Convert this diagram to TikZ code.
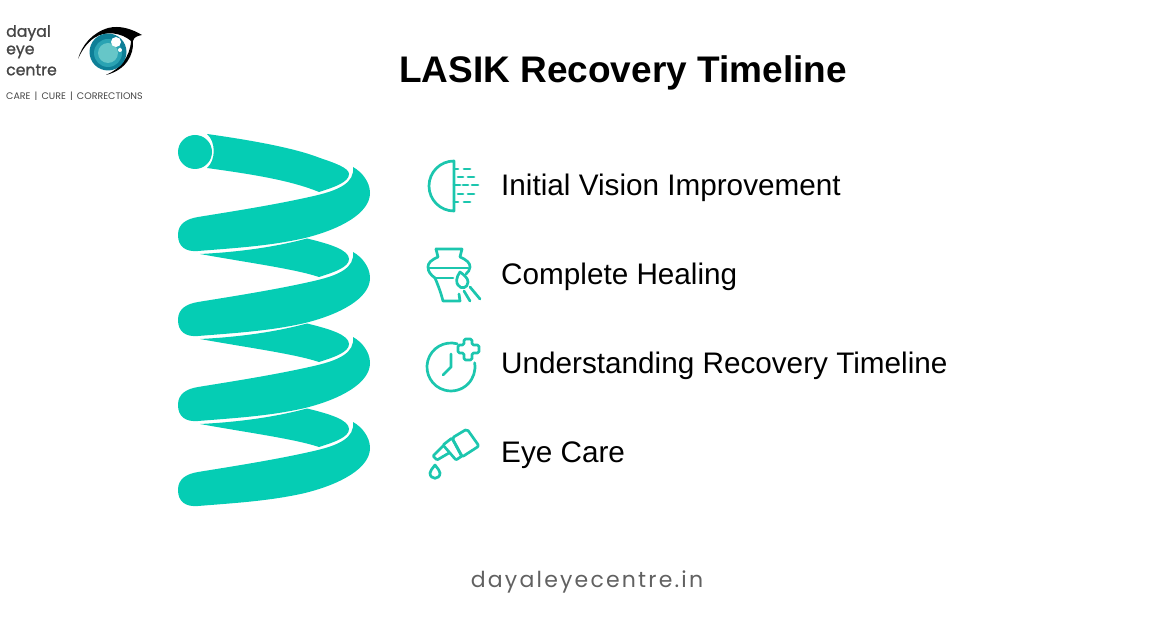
\documentclass[tikz,border=0pt]{standalone}
\usepackage{fontspec}
\setmainfont{Liberation Sans}
\newfontfamily\logofont{Poppins}
\newfontfamily\logoheavy[FakeBold=1.1]{Poppins}
\newfontfamily\footfont[LetterSpace=10]{Poppins}
\usepackage{tikz}

\definecolor{springteal}{HTML}{05CDB4}
\definecolor{iconteal}{HTML}{1CC6AE}
\definecolor{logogray}{HTML}{454545}
\definecolor{irisdark}{HTML}{0E7F97}
\definecolor{irismid}{HTML}{2AA3B3}
\definecolor{irislight}{HTML}{66C6C8}

\tikzset{
    frontband/.pic={
        \fill[springteal] (198,217) .. controls (235,211) and (280,204) .. (318,195)
            .. controls (338,190) and (355,183) .. (353,167)
            .. controls (362,172) and (370,182) .. (370,193)
            .. controls (370,213) and (341,229) .. (305,238)
            .. controls (270,246) and (235,248) .. (198,251)
            .. controls (186,252) and (178,247) .. (178,235)
            .. controls (178,224) and (186,219) .. (198,217) -- cycle;
    },
    backband/.pic={
        \fill[springteal] (200,254) .. controls (240,252) and (275,247) .. (307,238.5)
            .. controls (330,244) and (349,250) .. (349,259)
            .. controls (349,267) and (335,272) .. (319,277)
            .. controls (295,269) and (250,263) .. (200,254) -- cycle;
    }
}

\begin{document}
\begin{tikzpicture}[
    x=1pt, y=-1pt,
    title/.style={anchor=center, font=\fontsize{37}{37}\selectfont\bfseries, text=black},
    itemlabel/.style={anchor=west, font=\fontsize{29.7}{30}\selectfont, text=black, inner sep=0pt},
    logoword/.style={anchor=west, font=\logoheavy\fontsize{15.7}{15.7}\selectfont, text=logogray, inner sep=0pt},
    icon/.style={draw=iconteal, line width=2.7pt, line cap=round, line join=round}
    ]
\useasboundingbox (0,0) rectangle (1170,628);

% Logo
\node[logoword] (logo day) at (6,33) {dayal};
\node[logoword] (logo eye) at (6,52) {eye};
\node[logoword] (logo cen) at (6,70) {centre};
\node[anchor=west, inner sep=0pt, text=logogray, font=\logofont\fontsize{9.5}{9.5}\selectfont] (logo tag) at (6,96) {CARE \,|\, CURE \,|\, CORRECTIONS};

\fill[black] (78,59) .. controls (82,45) and (92,33) .. (108,28)
    .. controls (120,25) and (132,29) .. (142,35)
    .. controls (137,36) and (134,37) .. (133,41)
    .. controls (134,55) and (126,70) .. (106,75)
    .. controls (120,69) and (130,57) .. (131,41)
    .. controls (122,33) and (106,30) .. (94,38)
    .. controls (87,43) and (82,50) .. (78,59) -- cycle;
\fill[irisdark] (108,52) circle (18.5pt);
\fill[irismid] (108,53) circle (14pt);
\fill[irislight] (108,53) circle (10pt);
\fill[white] (116,42) circle (5pt);
\fill[white] (120,50) circle (2pt);

% Title
\node[title] (title) at (623,72.5) {LASIK Recovery Timeline};

% Spring
\fill[springteal] (195,152) circle (17pt);
\fill[springteal] (207,134) .. controls (250,140) and (295,148) .. (320,158)
    .. controls (335,163) and (349,168) .. (349,174)
    .. controls (349,182) and (335,187) .. (319,192)
    .. controls (290,180) and (250,174) .. (207,168)
    .. controls (216,160) and (216,142) .. (207,134) -- cycle;
\pic at (0,0) {frontband};
\pic at (0,0) {backband};
\pic at (0,85) {frontband};
\pic at (0,85) {backband};
\pic at (0,170) {frontband};
\pic at (0,170) {backband};
\pic at (0,255) {frontband};

% Icon: half disc with dashes
\draw[icon] (454,161) arc[start angle=90, end angle=270, radius=25pt] -- cycle;
\draw[icon] (454,169) -- (458,169) (464,169) -- (470,169);
\draw[icon] (458,177) -- (463,177) (468,177) -- (474,177);
\draw[icon] (454,185) -- (460,185) (463,185) -- (468,185) (472,185) -- (478,185);
\draw[icon] (458,194) -- (463,194) (468,194) -- (474,194);
\draw[icon] (454,202) -- (458,202) (464,202) -- (470,202);

% Icon: vase and brush
\draw[icon] (436,249) -- (462,249) -- (460,257) .. controls (467,260) and (470,263) .. (470,267)
    .. controls (470,270) and (468,272) .. (466,274);
\draw[icon] (436,249) -- (438,257) .. controls (431,260) and (428,263) .. (428,267)
    .. controls (428,272) and (431,275) .. (435,278) .. controls (438,285) and (441,293) .. (443,301) -- (460,301) -- (459,294);
\draw[icon] (429,268) -- (468,268);
\draw[icon] (435,278) -- (453,278);
\draw[icon] (460,272) .. controls (456,277) and (456,283) .. (458,285)
    .. controls (461,290) and (468,288) .. (468,282) .. controls (468,278) and (464,275) .. (460,272) -- cycle;
\draw[icon] (464,291) -- (470,301);
\draw[icon] (470,287) -- (480,299);

% Icon: clock and plus
\draw[icon] (457.2,343.8) arc[start angle=75, end angle=370, radius=24pt];
\draw[icon] (451,354) -- (451,367) -- (443,375);
\draw[icon, rounded corners=1.5pt] (464,339) -- (472,339) -- (472,345) -- (479,345) -- (479,353) -- (472,353)
    -- (472,360) -- (464,360) -- (464,353) -- (458,353) -- (458,345) -- (464,345) -- cycle;

% Icon: eye drops
\draw[icon, rounded corners=2pt] (452,438) -- (467,429) -- (479,446) -- (462,457) -- cycle;
\draw[icon, rounded corners=1pt] (443,445) -- (452,438) -- (462,456) -- (456,460) -- cycle;
\draw[icon, rounded corners=1pt] (443,446) -- (433,456) -- (437,460) -- (449,453);
\draw[icon] (435,465) .. controls (432,469) and (430,471) .. (430,473)
    .. controls (430,480) and (440,480) .. (440,473) .. controls (440,471) and (438,469) .. (435,465) -- cycle;

% Item labels
\node[itemlabel] (item vision) at (501,188) {Initial Vision Improvement};
\node[itemlabel] (item healing) at (501,277) {Complete Healing};
\node[itemlabel] (item timeline) at (501,366) {Understanding Recovery Timeline};
\node[itemlabel] (item care) at (501,455) {Eye Care};

% Footer
\node[anchor=center, text=logogray!85!white, font=\footfont\fontsize{22}{22}\selectfont] (site) at (587,582) {dayaleyecentre.in};

\end{tikzpicture}
\end{document}
